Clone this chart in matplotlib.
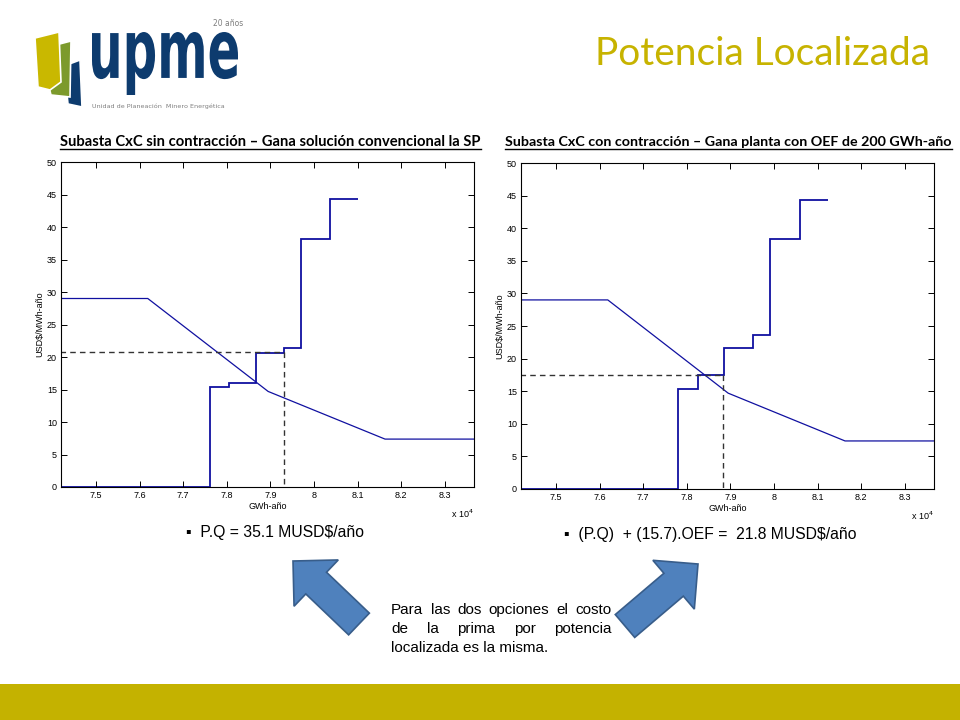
import matplotlib
matplotlib.use("Agg")
import matplotlib.pyplot as plt
from matplotlib.patches import Polygon, Rectangle, FancyArrow, PathPatch
from matplotlib.textpath import TextPath
from matplotlib.font_manager import FontProperties
from matplotlib.transforms import Affine2D
from matplotlib.ticker import FuncFormatter

# ---------------- data ----------------
demand_q = [74170, 76190, 78700, 78950, 81630, 83700]
demand_p = [29.0, 29.0, 16.0, 14.7, 7.37, 7.37]

supply_left_q = [74170, 77610, 78050, 78670, 79320, 79710, 80370, 81010]
supply_left_p = [0, 15.35, 15.97, 20.62, 21.34, 38.23, 44.37]
eq_left_q, eq_left_p = 79320, 20.73

supply_right_q = [74170, 77810, 78270, 78860, 79530, 79920, 80600, 81250]
supply_right_p = [0, 15.31, 17.55, 21.58, 23.57, 38.27, 44.39]
eq_right_q, eq_right_p = 78830, 17.55

x_ticks = [75000, 76000, 77000, 78000, 79000, 80000, 81000, 82000, 83000]
y_ticks = [0, 5, 10, 15, 20, 25, 30, 35, 40, 45, 50]

title_left = "Subasta CxC sin contracción – Gana solución convencional la SP"
title_right = "Subasta CxC con contracción – Gana planta con OEF de 200 GWh-año"
main_title = "Potencia Localizada"
bullet_left = "▪  P.Q = 35.1 MUSD$/año"
bullet_right = "▪  (P.Q)  + (15.7).OEF =  21.8 MUSD$/año"
para_lines = ["Para las dos opciones el costo", "de la prima por potencia", "localizada es la misma."]

GOLD = "#C7B300"
LINE = "#1010A0"
NARROW = ["Liberation Sans Narrow", "Liberation Sans", "DejaVu Sans"]

fig = plt.figure(figsize=(9.6, 7.2), dpi=100)

# overlay in pixel coordinates
ov = fig.add_axes([0, 0, 1, 1], zorder=0)
ov.set_xlim(0, 960)
ov.set_ylim(720, 0)
ov.axis("off")

# bottom band
ov.add_patch(Rectangle((0, 684), 960, 36, color="#C4B200", lw=0))

# logo
ov.add_patch(Polygon([(64, 66), (80, 60), (82, 107), (68, 104)], closed=True,
                     fc="#0D3B6E", ec="white", lw=1.2))
ov.add_patch(Polygon([(48, 47), (71, 41), (70, 97), (51, 95), (47, 80)], closed=True,
                     fc="#7C9A2C", ec="white", lw=1.2))
ov.add_patch(Polygon([(35, 38), (59, 32), (61, 82), (50, 90), (38, 87)], closed=True,
                     fc="#C9B800", ec="white", lw=1.2))
fp = FontProperties(family="DejaVu Sans", weight="bold")
tp = TextPath((0, 0), "upme", prop=fp, size=10)
bb = tp.get_extents()
sx = (238 - 92) / bb.width
sy = (95 - 32) / bb.height
tr = Affine2D().translate(-bb.x0, -bb.y1).scale(sx, -sy).translate(92, 32)
ov.add_patch(PathPatch(tr.transform_path(tp), fc="#0D3B6E", ec="none"))
ov.text(243, 24, "20 años", fontsize=5.5, color="#7F7F7F", ha="right", va="center",
        family="DejaVu Sans")
ov.text(92, 106, "Unidad de Planeación  Minero Energética", fontsize=4.6, color="#7F7F7F",
        ha="left", va="center", family="DejaVu Sans")

# main title
ov.text(930, 65, main_title, fontsize=28, color=GOLD, ha="right", va="baseline",
        family=["Lato", "DejaVu Sans"])

# subtitles (underlined)
sub_left = ov.text(60, 146, title_left, fontsize=10.6, weight="bold", ha="left",
                   va="baseline", family=["Lato", "DejaVu Sans"])
sub_right = ov.text(505, 146, title_right, fontsize=10.3, weight="bold", ha="left",
                    va="baseline", family=["Lato", "DejaVu Sans"])

# bullets
ov.text(186, 532, bullet_left, fontsize=11.3, ha="left", va="center", family=NARROW)
ov.text(564, 535, bullet_right, fontsize=11.3, ha="left", va="center", family=NARROW)

# arrows
ov.add_patch(FancyArrow(359, 624, -66, -63, width=30, head_width=64, head_length=32,
                        length_includes_head=True, fc="#4F81BD", ec="#385D8A", lw=1.2))
ov.add_patch(FancyArrow(625, 626, 73, -62, width=30, head_width=64, head_length=32,
                        length_includes_head=True, fc="#4F81BD", ec="#385D8A", lw=1.2))


def make_chart(rect, sq, sp, eq_q, eq_p):
    ax = fig.add_axes(rect, zorder=2)
    ax.plot(demand_q, demand_p, color=LINE, lw=0.9)
    ax.stairs(sp, sq, baseline=None, color=LINE, lw=1.3)
    ax.plot([demand_q[0], eq_q], [eq_p, eq_p], color="#333333", lw=1.0, ls=(0, (4, 3)))
    ax.plot([eq_q, eq_q], [eq_p, 0], color="#333333", lw=1.0, ls=(0, (4, 3)))
    ax.set_xlim(74200, 83670)
    ax.set_ylim(0, 50)
    ax.set_xticks(x_ticks)
    ax.set_yticks(y_ticks)
    ax.xaxis.set_major_formatter(FuncFormatter(lambda v, p: f"{v / 1e4:g}"))
    ax.tick_params(direction="in", length=4, width=0.7, labelsize=6.5, pad=3,
                   top=True, right=True)
    for lab in ax.get_xticklabels() + ax.get_yticklabels():
        lab.set_family(["Liberation Sans", "DejaVu Sans"])
    for s in ax.spines.values():
        s.set_linewidth(0.8)
    ax.set_xlabel("GWh-año", fontsize=6.5, labelpad=1, family=["Liberation Sans", "DejaVu Sans"])
    ax.set_ylabel("USD$/MWh-año", fontsize=6.5, labelpad=2, family=["Liberation Sans", "DejaVu Sans"])
    ax.text(1.0, -0.062, r"x 10$^4$", transform=ax.transAxes, ha="right", va="top",
            fontsize=6.5, family=["Liberation Sans", "DejaVu Sans"])
    return ax


make_chart([61 / 960, 1 - 487 / 720, 413 / 960, 325 / 720],
           supply_left_q, supply_left_p, eq_left_q, eq_left_p)
make_chart([521 / 960, 1 - 489 / 720, 413 / 960, 326 / 720],
           supply_right_q, supply_right_p, eq_right_q, eq_right_p)

# layout-dependent parts
fig.canvas.draw()
r = fig.canvas.get_renderer()
for t in (sub_left, sub_right):
    ext = t.get_window_extent(r)
    ov.plot([ext.x0, ext.x1], [148.5, 148.5], color="black", lw=1.0)

# justified paragraph
px0, px1 = 391, 612
ys = [610, 629, 648]
for i, line in enumerate(para_lines):
    words = line.split()
    if i == len(para_lines) - 1:
        ov.text(px0, ys[i], line, fontsize=11, ha="left", va="center", family=NARROW)
        continue
    widths = []
    for w in words:
        tt = ov.text(0, 0, w, fontsize=11, family=NARROW)
        widths.append(tt.get_window_extent(r).width)
        tt.remove()
    gap = (px1 - px0 - sum(widths)) / (len(words) - 1)
    x = px0
    for w, wd in zip(words, widths):
        ov.text(x, ys[i], w, fontsize=11, ha="left", va="center", family=NARROW)
        x += wd + gap

fig.savefig("out.png", dpi=100)
